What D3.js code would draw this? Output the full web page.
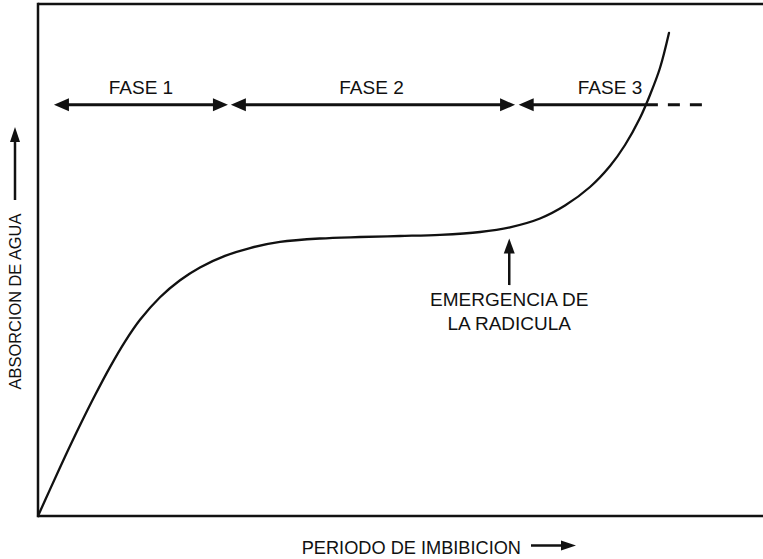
<!DOCTYPE html>
<html>
<head>
<meta charset="utf-8">
<script src="https://cdn.jsdelivr.net/npm/d3@7"></script>
<style>
  html, body { margin: 0; padding: 0; background: #fff; }
  svg { display: block; }
  text { font-family: "Liberation Sans", Arial, Helvetica, sans-serif; fill: #111; }
</style>
</head>
<body>
<svg id="chart" width="763" height="559"></svg>
<script>
// ---- data (arbitrary units: time 0..100, absorption 0..100) ----
const curveX = [0, 1.66, 3.72, 5.79, 7.86, 9.93, 12.0, 14.07, 16.83, 19.59, 22.34, 25.79, 29.24, 33.38, 38.9, 44.41, 49.93, 55.45, 60.97, 65.1, 69.24, 72.69, 76.14, 78.9, 80.97, 83.03, 84.41, 85.79, 87.03];
const curveY = [0, 5.2, 11.56, 17.71, 23.57, 29.08, 34.06, 38.32, 42.73, 46.05, 48.55, 50.8, 52.34, 53.52, 54.2, 54.49, 54.69, 54.92, 55.47, 56.39, 58.11, 60.64, 64.26, 68.36, 72.46, 77.73, 82.23, 87.5, 94.34];

const phaseLabels = ["FASE 1", "FASE 2", "FASE 3"];
const phaseStart = [2.2, 26.6, 66.3];
const phaseEnd = [26.2, 65.8, 85.5];
const phaseLabelX = [14.2, 46.0, 78.9];
const phaseLevel = 80.3;
const phase3DashedEnd = 91.6;

const emergenceX = 65.0;
const emergenceTip = 54.2;
const emergenceTail = 45.1;
const emergenceLines = ["EMERGENCIA DE", "LA RADICULA"];

const xTitle = "PERIODO DE IMBIBICION";
const yTitle = "ABSORCION DE AGUA";

// ---- scales ----
const svg = d3.select("#chart");
const x = d3.scaleLinear().domain([0, 100]).range([38, 763]);
const y = d3.scaleLinear().domain([0, 100]).range([516, 4]);

// ---- frame (left, top, bottom) ----
const frame = svg.append("g").attr("stroke", "#111").attr("stroke-width", 2.5).attr("fill", "none");
frame.append("line").attr("x1", x(0)).attr("x2", x(0)).attr("y1", y(100) - 1.2).attr("y2", y(0) + 1.2);
frame.append("line").attr("x1", x(0)).attr("x2", x(100)).attr("y1", y(100)).attr("y2", y(100));
frame.append("line").attr("x1", x(0)).attr("x2", x(100)).attr("y1", y(0)).attr("y2", y(0));

// ---- curve ----
const pts = curveX.map((v, i) => [v, curveY[i]]);
const line = d3.line().x(d => x(d[0])).y(d => y(d[1])).curve(d3.curveCatmullRom.alpha(0.5));
svg.append("path").datum(pts).attr("d", line)
  .attr("fill", "none").attr("stroke", "#111").attr("stroke-width", 2.3).attr("stroke-linecap", "round");

// ---- helpers ----
function arrowHead(g, tipX, tipY, dir, len, half) {
  let p;
  if (dir === "left") p = [[tipX, tipY], [tipX + len, tipY - half], [tipX + len, tipY + half]];
  else if (dir === "right") p = [[tipX, tipY], [tipX - len, tipY - half], [tipX - len, tipY + half]];
  else p = [[tipX, tipY], [tipX - half, tipY + len], [tipX + half, tipY + len]];
  g.append("path").attr("d", "M" + p.map(q => q.join(",")).join("L") + "Z").attr("fill", "#111");
}

// ---- phase arrows ----
const ph = svg.append("g");
const py = y(phaseLevel);
phaseLabels.forEach((lab, i) => {
  const x1 = x(phaseStart[i]), x2 = x(phaseEnd[i]);
  const hasRight = i < 2;
  ph.append("line")
    .attr("x1", x1 + 8).attr("x2", hasRight ? x2 - 8 : x2)
    .attr("y1", py).attr("y2", py)
    .attr("stroke", "#111").attr("stroke-width", 3);
  arrowHead(ph, x1, py, "left", 15, 6.5);
  if (hasRight) arrowHead(ph, x2, py, "right", 15, 6.5);
  ph.append("text").attr("x", x(phaseLabelX[i])).attr("y", py - 10.7)
    .attr("text-anchor", "middle").attr("font-size", 19).text(lab);
});
ph.append("line")
  .attr("x1", x(phaseEnd[2]) + 10).attr("x2", x(phase3DashedEnd))
  .attr("y1", py).attr("y2", py)
  .attr("stroke", "#111").attr("stroke-width", 3).attr("stroke-dasharray", "12 10");

// ---- emergence annotation ----
const em = svg.append("g");
em.append("line").attr("x1", x(emergenceX)).attr("x2", x(emergenceX))
  .attr("y1", y(emergenceTip) + 10).attr("y2", y(emergenceTail))
  .attr("stroke", "#111").attr("stroke-width", 2.5);
arrowHead(em, x(emergenceX), y(emergenceTip), "up", 15, 5.5);
emergenceLines.forEach((t, i) => {
  em.append("text").attr("x", x(emergenceX)).attr("y", y(emergenceTail) + 21 + i * 24)
    .attr("text-anchor", "middle").attr("font-size", 19).text(t);
});

// ---- axis titles ----
const xt = svg.append("g");
xt.append("text").attr("x", 521).attr("y", 554).attr("text-anchor", "end")
  .attr("font-size", 18.2).text(xTitle);
xt.append("line").attr("x1", 531).attr("x2", 562).attr("y1", 545.5).attr("y2", 545.5)
  .attr("stroke", "#111").attr("stroke-width", 2.5);
arrowHead(xt, 576, 545.5, "right", 15, 5);

const yt = svg.append("g");
yt.append("text").attr("transform", "translate(21,301.5) rotate(-90)")
  .attr("text-anchor", "middle").attr("font-size", 16.4).text(yTitle);
yt.append("line").attr("x1", 15).attr("x2", 15).attr("y1", 200).attr("y2", 140)
  .attr("stroke", "#111").attr("stroke-width", 2.5);
arrowHead(yt, 15, 127, "up", 15, 5);
</script>
</body>
</html>
